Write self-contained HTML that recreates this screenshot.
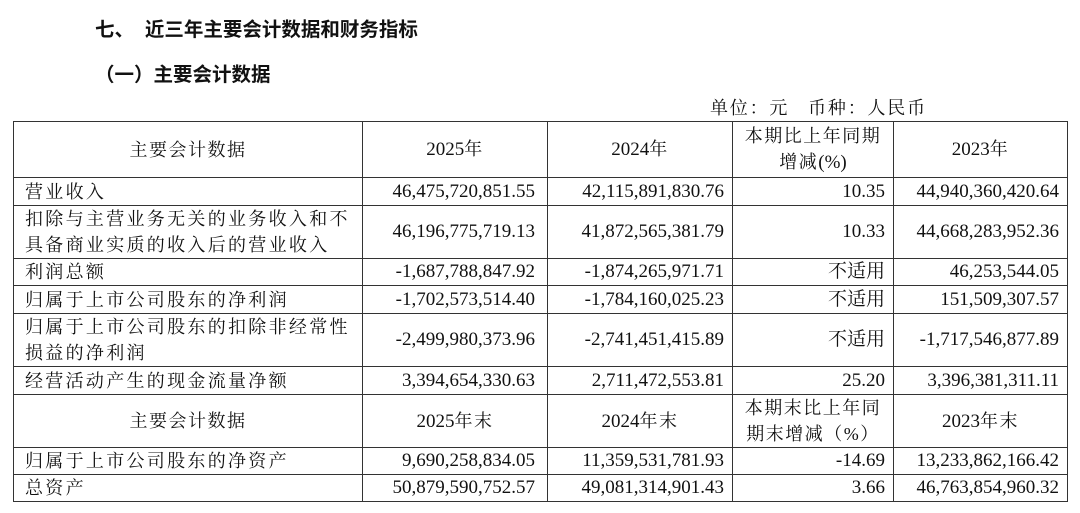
<!DOCTYPE html>
<html><head><meta charset="utf-8"><style>
body{margin:0;width:1080px;height:513px;background:#fff;position:relative;overflow:hidden;font-family:"Liberation Serif","Noto Serif CJK SC","Noto Sans CJK SC",serif;color:#111}
.h{position:absolute;font-family:"Liberation Sans","Noto Sans CJK SC",sans-serif;font-weight:bold;font-size:19.5px;white-space:nowrap}
.u{position:absolute;left:710px;top:94px;font-size:18px;white-space:nowrap;letter-spacing:1.8px}
table{position:absolute;left:13px;top:121px;border-collapse:collapse;table-layout:fixed;width:1054px}
td{border:1px solid #333;font-size:18px;padding:0 8px;line-height:26px;overflow:hidden;white-space:nowrap}
td.l{text-align:left;padding-left:11px;padding-right:4px;white-space:normal;letter-spacing:2.3px}
td.c{text-align:center;white-space:normal;letter-spacing:1.5px}
td.c span{letter-spacing:0;font-size:19px}
td.r{text-align:right;font-size:19px}
td.r2{padding-right:12px}
</style></head><body>
<div class="h" style="left:95px;top:13px">七、&nbsp;&nbsp;近三年主要会计数据和财务指标</div>
<div class="h" style="left:95px;top:58px">（一）主要会计数据</div>
<div class="u">单位：元&nbsp;&nbsp;&nbsp;币种：人民币</div>
<table>
<colgroup><col style="width:349px"><col style="width:185px"><col style="width:185px"><col style="width:161px"><col style="width:174px"></colgroup>
<tr style="height:56px"><td class="c">主要会计数据</td><td class="c"><span>2025</span>年</td><td class="c"><span>2024</span>年</td><td class="c">本期比上年同期<br>增减<span>(%)</span></td><td class="c"><span>2023</span>年</td></tr>
<tr style="height:28px"><td class="l">营业收入</td><td class="r r2">46,475,720,851.55</td><td class="r">42,115,891,830.76</td><td class="r">10.35</td><td class="r">44,940,360,420.64</td></tr>
<tr style="height:53px"><td class="l">扣除与主营业务无关的业务收入和不具备商业实质的收入后的营业收入</td><td class="r r2">46,196,775,719.13</td><td class="r">41,872,565,381.79</td><td class="r">10.33</td><td class="r">44,668,283,952.36</td></tr>
<tr style="height:27px"><td class="l">利润总额</td><td class="r r2">-1,687,788,847.92</td><td class="r">-1,874,265,971.71</td><td class="r">不适用</td><td class="r">46,253,544.05</td></tr>
<tr style="height:28px"><td class="l">归属于上市公司股东的净利润</td><td class="r r2">-1,702,573,514.40</td><td class="r">-1,784,160,025.23</td><td class="r">不适用</td><td class="r">151,509,307.57</td></tr>
<tr style="height:52px"><td class="l">归属于上市公司股东的扣除非经常性损益的净利润</td><td class="r r2">-2,499,980,373.96</td><td class="r">-2,741,451,415.89</td><td class="r">不适用</td><td class="r">-1,717,546,877.89</td></tr>
<tr style="height:28px"><td class="l">经营活动产生的现金流量净额</td><td class="r r2">3,394,654,330.63</td><td class="r">2,711,472,553.81</td><td class="r">25.20</td><td class="r">3,396,381,311.11</td></tr>
<tr style="height:53px"><td class="c">主要会计数据</td><td class="c"><span>2025</span>年末</td><td class="c"><span>2024</span>年末</td><td class="c">本期末比上年同<br>期末增减（%）</td><td class="c"><span>2023</span>年末</td></tr>
<tr style="height:27px"><td class="l">归属于上市公司股东的净资产</td><td class="r r2">9,690,258,834.05</td><td class="r">11,359,531,781.93</td><td class="r">-14.69</td><td class="r">13,233,862,166.42</td></tr>
<tr style="height:27px"><td class="l">总资产</td><td class="r r2">50,879,590,752.57</td><td class="r">49,081,314,901.43</td><td class="r">3.66</td><td class="r">46,763,854,960.32</td></tr>
</table>
</body></html>
